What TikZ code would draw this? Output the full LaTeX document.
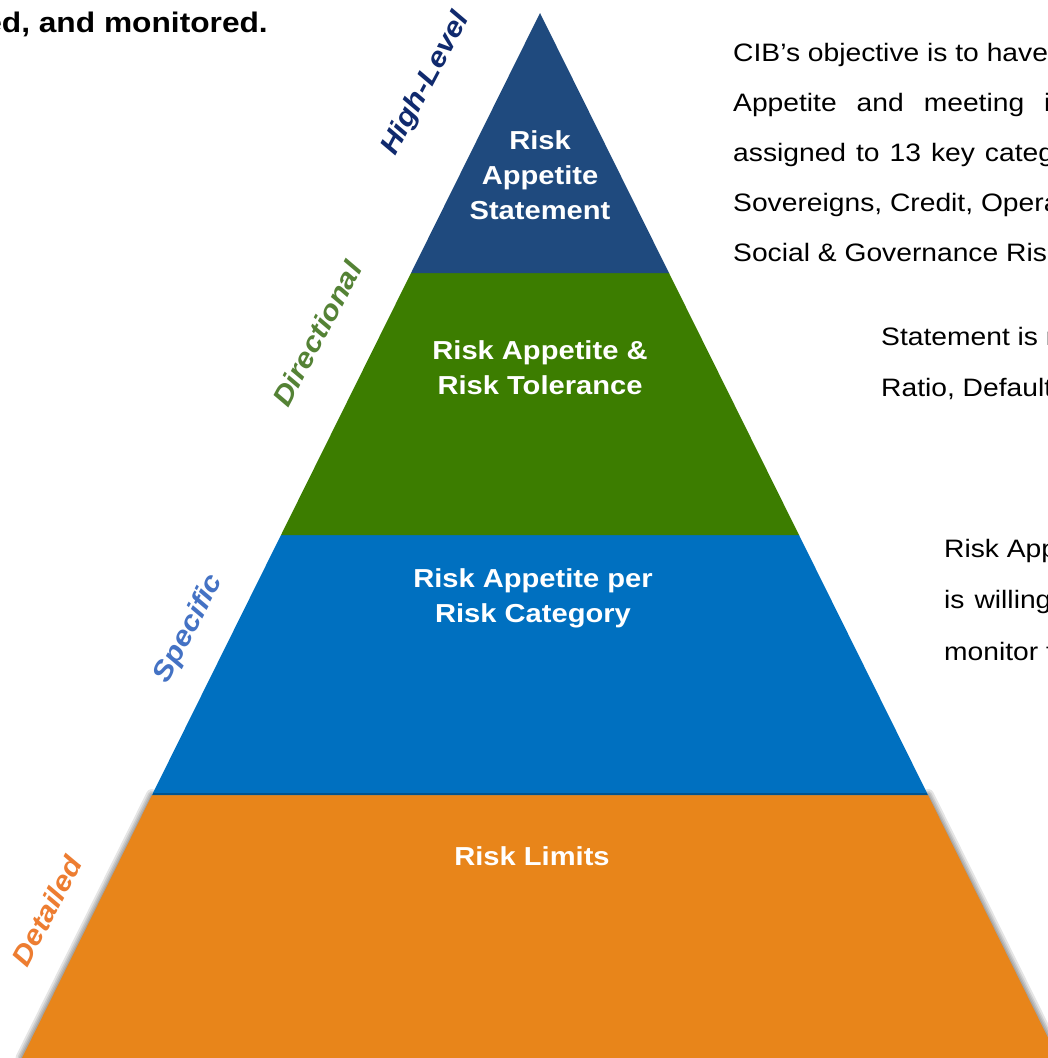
\documentclass[tikz,border=0pt]{standalone}
\usepackage{fontspec}
\setmainfont{Liberation Sans}[FakeStretch=1.12]
\definecolor{bandnavy}{HTML}{1F4A7E}
\definecolor{bandgreen}{HTML}{3C7D00}
\definecolor{bandblue}{HTML}{0070C0}
\definecolor{bandorange}{HTML}{E8851A}
\definecolor{lblnavy}{HTML}{102A6E}
\definecolor{lblgreen}{HTML}{548235}
\definecolor{lblblue}{HTML}{4472C4}
\definecolor{lblorange}{HTML}{ED7D31}
\tikzset{
  bandlabel/.style={text=white, font=\bfseries\fontsize{26}{35}\selectfont, align=center, inner sep=0pt},
  sidelabel/.style={font=\bfseries\itshape\fontsize{27.5}{30}\selectfont, rotate=62, inner sep=0pt},
  bodytext/.style={font=\fontsize{25.2}{50}\selectfont, anchor=base west, inner sep=0pt, text=black},
  shadowline/.style={draw=black, opacity=0.10, line cap=round}
}
\begin{document}
\begin{tikzpicture}[x=1pt,y=-1pt]
\clip (0,0) rectangle (1048,1058);
\fill[white] (0,0) rectangle (1048,1058);
% shadow along the orange band
\foreach \w in {12,8,5,2}{
  \draw[shadowline, line width=\w pt] (152,795) -- (21.5,1058);
  \draw[shadowline, line width=\w pt] (928,795) -- (1058.5,1058);
}
% bands
\fill[bandorange] (152,795) -- (928,795) -- (1060,1062) -- (20,1062) -- cycle;
\fill[bandblue] (281,535) -- (799,535) -- (928,795) -- (152,795) -- cycle;
\fill[bandgreen] (411,273) -- (669,273) -- (799,535) -- (281,535) -- cycle;
\fill[bandnavy] (540,13) -- (669,273) -- (411,273) -- cycle;
\draw[bandblue!75!black, line width=2pt] (153,794) -- (927,794);
% band labels
\node[bandlabel] (stmt) at (540,175) {Risk\\Appetite\\Statement};
\node[bandlabel] (tol) at (540,368) {Risk Appetite \&\\Risk Tolerance};
\node[bandlabel] (cat) at (533,598) {Risk Appetite per\\Risk Category};
\node[bandlabel] (lim) at (532,856) {Risk Limits};
% side labels
\node[sidelabel, text=lblnavy] (hl) at (426,84) {High-Level};
\node[sidelabel, text=lblgreen] (dir) at (317,334) {Directional};
\node[sidelabel, text=lblblue] (spec) at (189,629) {Specific};
\node[sidelabel, text=lblorange] (det) at (47,911) {Detailed};
% heading fragment
\node[font=\bfseries\fontsize{28.3}{30}\selectfont, anchor=base east, inner sep=0pt] (head) at (268,32) {ed, and monitored.};
% right text blocks
\node[bodytext] (a1) at (733,61) {CIB’s objective is to have};
\node[bodytext] (a2) at (733,111) {Appetite\hspace{20pt}and\hspace{20pt}meeting\hspace{20pt}its};
\node[bodytext] (a3) at (733,161) {assigned\hspace{10pt}to\hspace{10pt}13\hspace{10pt}key\hspace{10pt}categories};
\node[bodytext] (a4) at (733,211) {Sovereigns, Credit, Operational};
\node[bodytext] (a5) at (733,261) {Social \& Governance Risk};
\node[bodytext] (b1) at (881,345) {Statement is measured};
\node[bodytext] (b2) at (881,396) {Ratio, Default};
\node[bodytext] (c1) at (944,557) {Risk Appetite};
\node[bodytext] (c2) at (944,608) {is\hspace{10pt}willing};
\node[bodytext] (c3) at (944,660) {monitor the};
\end{tikzpicture}
\end{document}
